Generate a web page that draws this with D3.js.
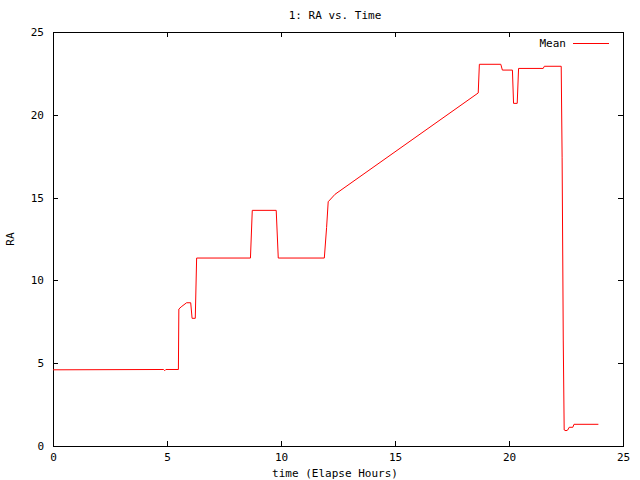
<!DOCTYPE html>
<html><head><meta charset="utf-8">
<script src="https://cdn.jsdelivr.net/npm/d3@7"></script>
<style>
html,body{margin:0;padding:0;background:#fff;}
text{font-family:"DejaVu Sans Mono","Liberation Mono",monospace;font-size:11px;fill:#000;}
</style></head><body>
<svg id="c" width="640" height="480"></svg>
<script>
const chartTitle = "1: RA vs. Time";
const xLabel = "time (Elapse Hours)";
const yLabel = "RA";
const seriesName = "Mean";
const xTicks = [0, 5, 10, 15, 20, 25];
const yTicks = [0, 5, 10, 15, 20, 25];
const timeHours = [0, 4.85, 4.9, 4.95, 5.5, 5.52, 5.62, 5.86, 6.04, 6.1, 6.24, 6.3,
  8.66, 8.74, 9.79, 9.88, 11.9, 12.0, 12.07, 12.37, 18.65, 18.7, 19.64, 19.71,
  20.15, 20.2, 20.36, 20.42, 21.5, 21.55, 22.29, 22.33, 22.38, 22.42, 22.5, 22.58,
  22.64, 22.8, 22.85, 23.92];
const raMean = [4.6, 4.62, 4.55, 4.62, 4.62, 8.27, 8.4, 8.65, 8.65, 7.71, 7.71, 11.35,
  11.35, 14.23, 14.23, 11.35, 11.35, 13.2, 14.75, 15.2, 21.32, 23.05, 23.05, 22.7,
  22.7, 20.69, 20.69, 22.8, 22.8, 22.93, 22.93, 17.4, 6.4, 0.97, 0.92, 0.97,
  1.13, 1.13, 1.31, 1.31];

const L = 53, R = 623, T = 32, B = 446, TL = 5;
const svg = d3.select("#c");
const x = d3.scaleLinear().domain([0, 25]).range([L, R]);
const y = d3.scaleLinear().domain([0, 25]).range([B, T]);

const ax = (g) => { g.select(".domain").remove(); g.selectAll("line").attr("stroke", "#000"); g.attr("shape-rendering","crispEdges"); };
svg.append("g").attr("transform", `translate(0,${B})`)
  .call(d3.axisBottom(x).tickValues(xTicks).tickSize(-TL).tickPadding(7).tickFormat(d3.format("d")))
  .call(ax).call(g => g.selectAll("text").attr("font-family", null).attr("font-size", null));
svg.append("g").attr("transform", `translate(0,${T})`)
  .call(d3.axisTop(x).tickValues(xTicks).tickSize(-TL).tickFormat(""))
  .call(ax);
svg.append("g").attr("transform", `translate(${L},0)`)
  .call(d3.axisLeft(y).tickValues(yTicks).tickSize(-TL).tickPadding(9).tickFormat(d3.format("d")))
  .call(ax).call(g => g.selectAll("text").attr("font-family", null).attr("font-size", null));
svg.append("g").attr("transform", `translate(${R},0)`)
  .call(d3.axisRight(y).tickValues(yTicks).tickSize(-TL).tickFormat(""))
  .call(ax);

svg.append("rect").attr("x", L + 0.5).attr("y", T + 0.5).attr("width", R - L).attr("height", B - T)
  .attr("fill", "none").attr("stroke", "#000").attr("shape-rendering", "crispEdges");

const pts = timeHours.map((t, i) => [t, raMean[i]]);
svg.append("path").datum(pts)
  .attr("d", d3.line().x(d => x(d[0])).y(d => y(d[1])))
  .attr("fill", "none").attr("stroke", "#ff0000").attr("stroke-width", 1);

svg.append("text").attr("x", 335).attr("y", 19).attr("text-anchor", "middle").text(chartTitle);
svg.append("text").attr("x", 335).attr("y", 477).attr("text-anchor", "middle").text(xLabel);
svg.append("text").attr("transform", "translate(14,239) rotate(-90)").attr("text-anchor", "middle").text(yLabel);

svg.append("text").attr("x", 566).attr("y", 47).attr("text-anchor", "end").text(seriesName);
svg.append("line").attr("x1", 573).attr("x2", 609).attr("y1", 43.5).attr("y2", 43.5)
  .attr("stroke", "#ff0000").attr("stroke-width", 1);
</script>
</body></html>
